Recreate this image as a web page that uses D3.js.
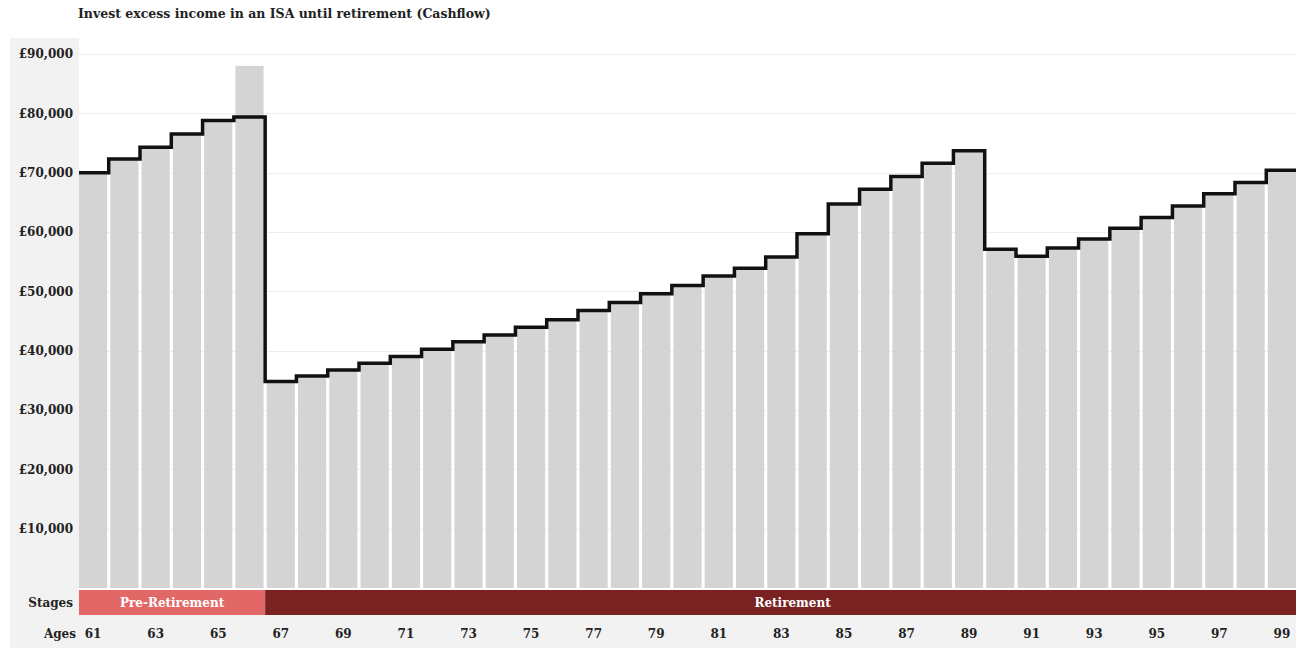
<!DOCTYPE html>
<html>
<head>
<meta charset="utf-8">
<script src="https://cdn.jsdelivr.net/npm/d3@7"></script>
<style>
  html, body { margin: 0; padding: 0; background: #fff; overflow: hidden; }
  svg { display: block; font-family: "DejaVu Serif", serif; }
</style>
</head>
<body>
<div id="chart"></div>
<script>
// Ages shown along the bottom of the chart
const ages = [61, 62, 63, 64, 65, 66, 67, 68, 69, 70, 71, 72, 73, 74, 75, 76, 77, 78, 79, 80,
              81, 82, 83, 84, 85, 86, 87, 88, 89, 90, 91, 92, 93, 94, 95, 96, 97, 98, 99];

// Grey bars: cash available each year (£)
const barValues = [70000, 72300, 74300, 76500, 78800, 88000, 34800, 35750, 36750, 37900,
                   39000, 40250, 41500, 42650, 43950, 45200, 46750, 48100, 49600, 51000,
                   52600, 53900, 55800, 59700, 64700, 67200, 69350, 71600, 73700, 57100,
                   55900, 57300, 58800, 60650, 62450, 64400, 66450, 68350, 70400];

// Black step line: cashflow each year (£)
const lineValues = [70000, 72300, 74300, 76500, 78800, 79400, 34800, 35750, 36750, 37900,
                    39000, 40250, 41500, 42650, 43950, 45200, 46750, 48100, 49600, 51000,
                    52600, 53900, 55800, 59700, 64700, 67200, 69350, 71600, 73700, 57100,
                    55900, 57300, 58800, 60650, 62450, 64400, 66450, 68350, 70400];

// Life stages (first and last age of each)
const stageNames = ["Pre-Retirement", "Retirement"];
const stageStart = [61, 67];
const stageEnd = [66, 99];
const stageColors = ["#e26868", "#7a2222"];

// Y axis ticks and labelled ages
const yTicks = [10000, 20000, 30000, 40000, 50000, 60000, 70000, 80000, 90000];
const ageTicks = [61, 63, 65, 67, 69, 71, 73, 75, 77, 79, 81, 83, 85, 87, 89, 91, 93, 95, 97, 99];

const title = "Invest excess income in an ISA until retirement (Cashflow)";

const W = 1320, H = 650;
const left = 79, right = 1296;
const plotTop = 54, plotBottom = 588;
const labelSize = 12;

const svg = d3.select("#chart").append("svg")
  .attr("width", W).attr("height", H);

const x = d3.scaleBand()
  .domain(ages)
  .range([left, right])
  .paddingInner(0.1)
  .paddingOuter(0);

const y = d3.scaleLinear()
  .domain([0, 90000])
  .range([plotBottom, plotTop]);

const bw = x.bandwidth();
const gap = x.step() - bw;

// Label panel on the left and the ages strip at the bottom
svg.append("rect")
  .attr("x", 10).attr("y", 38)
  .attr("width", left - 10).attr("height", H - 2 - 38)
  .attr("fill", "#f2f2f2");
svg.append("rect")
  .attr("x", 10).attr("y", 615)
  .attr("width", W - 10).attr("height", 33)
  .attr("fill", "#f2f2f2");

// Title
svg.append("text")
  .attr("x", 78).attr("y", 18)
  .attr("font-size", 12.5).attr("font-weight", "bold")
  .attr("fill", "#222")
  .text(title);

// Horizontal gridlines
svg.append("g").selectAll("line")
  .data(yTicks)
  .join("line")
  .attr("x1", left).attr("x2", W)
  .attr("y1", d => Math.round(y(d)) + 0.5)
  .attr("y2", d => Math.round(y(d)) + 0.5)
  .attr("stroke", "#eeeeee")
  .attr("stroke-width", 1);

// Y axis labels
const yAxis = d3.axisLeft(y)
  .tickValues(yTicks)
  .tickFormat(d => "£" + d3.format(",")(d))
  .tickSize(0)
  .tickPadding(0);
const yG = svg.append("g")
  .attr("transform", `translate(${left - 6},0)`)
  .call(yAxis);
yG.select(".domain").remove();
yG.selectAll("text")
  .attr("font-family", "DejaVu Serif, serif")
  .attr("font-size", labelSize)
  .attr("font-weight", "bold")
  .attr("fill", "#222");

// Bars
svg.append("g").selectAll("rect")
  .data(ages)
  .join("rect")
  .attr("x", d => x(d))
  .attr("y", (d, i) => y(barValues[i]))
  .attr("width", bw)
  .attr("height", (d, i) => y(0) - y(barValues[i]))
  .attr("fill", "#d4d4d4");

// Step line spanning each band, stepping in the gaps between bars
const pts = [];
ages.forEach((a, i) => {
  const x0 = i === 0 ? x(a) : x(a) - gap / 2;
  const x1 = i === ages.length - 1 ? W : x(a) + bw + gap / 2;
  pts.push([x0, y(lineValues[i])], [x1, y(lineValues[i])]);
});
svg.append("path")
  .attr("d", d3.line()(pts))
  .attr("fill", "none")
  .attr("stroke", "#111")
  .attr("stroke-width", 3.5)
  .attr("stroke-linejoin", "miter");

// Stages band
const bandY = 590, bandH = 25;
const stageX0 = i => x(stageStart[i]) - (i === 0 ? 0 : gap / 2);
const stageX1 = i => i === stageNames.length - 1 ? W : x(stageEnd[i]) + bw + gap / 2;
const stages = svg.append("g");
stageNames.forEach((name, i) => {
  stages.append("rect")
    .attr("x", stageX0(i)).attr("y", bandY)
    .attr("width", stageX1(i) - stageX0(i)).attr("height", bandH)
    .attr("fill", stageColors[i]);
  stages.append("text")
    .attr("x", (stageX0(i) + stageX1(i)) / 2)
    .attr("y", bandY + bandH / 2)
    .attr("dy", "0.35em")
    .attr("text-anchor", "middle")
    .attr("font-size", labelSize).attr("font-weight", "bold")
    .attr("fill", "#fff")
    .text(name);
});
svg.append("text")
  .attr("x", left - 6).attr("y", bandY + bandH / 2)
  .attr("dy", "0.35em")
  .attr("text-anchor", "end")
  .attr("font-size", labelSize).attr("font-weight", "bold")
  .attr("fill", "#222")
  .text("Stages");

// Ages axis
const agesY = 634;
const xAxis = d3.axisBottom(x)
  .tickValues(ageTicks)
  .tickSize(0)
  .tickPadding(0);
const xG = svg.append("g")
  .attr("transform", `translate(0,${agesY})`)
  .call(xAxis);
xG.select(".domain").remove();
xG.selectAll("text")
  .attr("y", 0)
  .attr("dy", "0.35em")
  .attr("font-family", "DejaVu Serif, serif")
  .attr("font-size", labelSize)
  .attr("font-weight", "bold")
  .attr("fill", "#222");
svg.append("text")
  .attr("x", left - 3).attr("y", agesY)
  .attr("dy", "0.35em")
  .attr("text-anchor", "end")
  .attr("font-size", labelSize).attr("font-weight", "bold")
  .attr("fill", "#222")
  .text("Ages");
</script>
</body>
</html>
